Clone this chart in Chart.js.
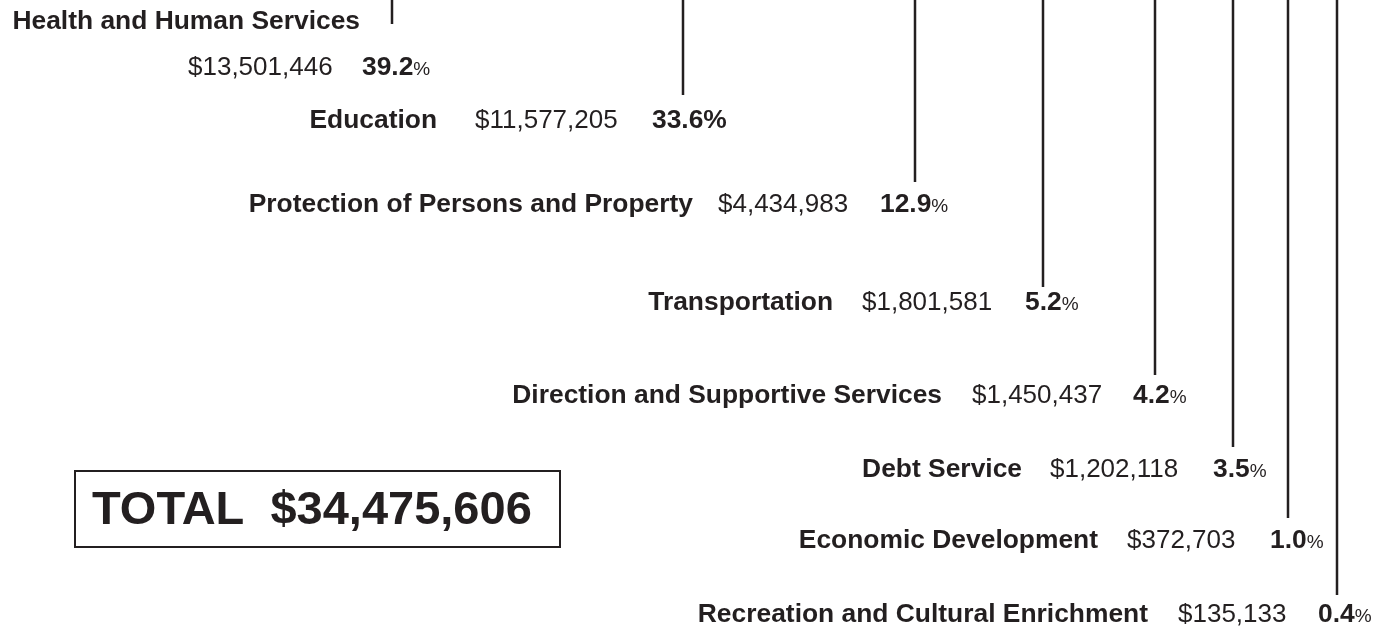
<!DOCTYPE html>
<html>
<head>
<meta charset="utf-8">
<script src="https://cdn.jsdelivr.net/npm/chart.js@4/dist/chart.umd.min.js"></script>
<style>
  html, body { margin: 0; padding: 0; background: #ffffff; }
  #wrap { position: relative; width: 1390px; height: 628px; }
</style>
</head>
<body>
<div id="wrap"><canvas id="c"></canvas></div>
<script>
// ---- data ----
const categories = [
  'Health and Human Services',
  'Education',
  'Protection of Persons and Property',
  'Transportation',
  'Direction and Supportive Services',
  'Debt Service',
  'Economic Development',
  'Recreation and Cultural Enrichment'
];
const amounts = [13501446, 11577205, 4434983, 1801581, 1450437, 1202118, 372703, 135133];
const shares = [39.2, 33.6, 12.9, 5.2, 4.2, 3.5, 1.0, 0.4];
const totalLabel = 'TOTAL';

// ---- layout (pixel-space scale units) ----
const leaderX      = [392, 683, 915, 1043, 1155, 1233, 1288, 1337];
const leaderEndY   = [24, 95, 182, 287, 375, 447, 518, 595];
const nameBaseline = [29, 128, 212, 310, 403, 477, 548, 622];
const valBaseline  = [75, 128, 212, 310, 403, 477, 548, 622];
const nameRight    = [360, 437, 693, 833, 942, 1022, 1098, 1148];
const valueLeft    = [188, 475, 718, 862, 972, 1050, 1127, 1178];
const pctLeft      = [362, 652, 880, 1025, 1133, 1213, 1270, 1318];
const pctSmall     = [true, false, true, true, true, true, true, true];
const totalBox     = { x0: 75, y0: 471, x1: 560, y1: 547, textX: 92, baseline: 524 };

const INK = '#231f20';
const FAM = '"Liberation Sans", Arial, Helvetica, sans-serif';

const fmt = v => '$' + v.toLocaleString('en-US');
const total = amounts.reduce((a, b) => a + b, 0);

const datasets = categories.map((c, i) => ({
  label: c,
  data: [{ x: leaderX[i], y: -5 }, { x: leaderX[i], y: leaderEndY[i] }],
  borderColor: INK,
  borderWidth: 2.5,
  pointRadius: 0,
  showLine: true,
  fill: false
}));

const labelPlugin = {
  id: 'labels',
  afterDatasetsDraw(chart) {
    const { ctx, scales: { x, y } } = chart;
    ctx.save();
    ctx.fillStyle = INK;
    ctx.textBaseline = 'alphabetic';
    categories.forEach((c, i) => {
      // name
      ctx.font = 'bold 26.4px ' + FAM;
      ctx.textAlign = 'right';
      ctx.fillText(c, x.getPixelForValue(nameRight[i]), y.getPixelForValue(nameBaseline[i]));
      // value
      ctx.font = '26px ' + FAM;
      ctx.textAlign = 'left';
      ctx.fillText(fmt(amounts[i]), x.getPixelForValue(valueLeft[i]), y.getPixelForValue(valBaseline[i]));
      // percent
      const num = shares[i].toFixed(1);
      const px = x.getPixelForValue(pctLeft[i]);
      const py = y.getPixelForValue(valBaseline[i]);
      ctx.font = 'bold 26.4px ' + FAM;
      if (pctSmall[i]) {
        ctx.fillText(num, px, py);
        const w = ctx.measureText(num).width;
        ctx.font = '19px ' + FAM;
        ctx.fillText('%', px + w, py);
      } else {
        ctx.fillText(num + '%', px, py);
      }
    });
    // total box
    const bx0 = x.getPixelForValue(totalBox.x0), bx1 = x.getPixelForValue(totalBox.x1);
    const by0 = y.getPixelForValue(totalBox.y0), by1 = y.getPixelForValue(totalBox.y1);
    ctx.strokeStyle = INK;
    ctx.lineWidth = 2;
    ctx.strokeRect(bx0, by0, bx1 - bx0, by1 - by0);
    ctx.font = 'bold 47px ' + FAM;
    ctx.textAlign = 'left';
    ctx.fillText(totalLabel + '  ' + fmt(total), x.getPixelForValue(totalBox.textX), y.getPixelForValue(totalBox.baseline));
    ctx.restore();
  }
};

new Chart(document.getElementById('c'), {
  type: 'scatter',
  data: { datasets },
  options: {
    responsive: true,
    maintainAspectRatio: false,
    animation: false,
    layout: { padding: 0 },
    plugins: { legend: { display: false }, tooltip: { enabled: false } },
    scales: {
      x: { type: 'linear', min: 0, max: 1390, display: false },
      y: { type: 'linear', min: 0, max: 628, reverse: true, display: false }
    }
  },
  plugins: [labelPlugin]
});
</script>
</body>
</html>
